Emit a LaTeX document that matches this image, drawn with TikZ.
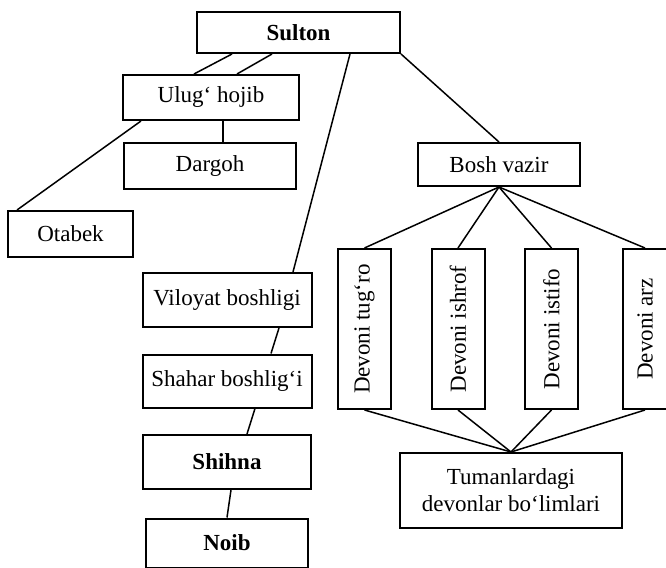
\documentclass[tikz,border=0pt]{standalone}
\usepackage{fontspec}
\setmainfont{Liberation Serif}
\usepackage{graphicx}

\begin{document}
\begin{tikzpicture}[x=0.5pt, y=-0.5pt, node distance={40.5pt}, line width=0.75pt, font=\fontsize{11.5}{13.5}\selectfont, main/.style = {draw, rectangle, line width=1pt, inner sep=1pt, align=center}, devon/.style = {main, minimum width=26.5pt, minimum height=80pt}] 
			\useasboundingbox (0,0) rectangle (666,568);
			\node[main, minimum width=101.5pt, minimum height=20.5pt] (1) at (298.5,32.5) {\textbf{Sulton}}; 
			\node[main, minimum width=88pt, minimum height=22.5pt] (2) at (211,97.5) {Ulug‘ hojib};
			\node[main, minimum width=86pt, minimum height=23pt] (3) at (210,166) {Dargoh};
			\node[main, minimum width=62.5pt, minimum height=23pt] (4) at (70.5,234) {Otabek};
			\node[main, minimum width=81pt, minimum height=21.5pt] (5) at (499,164.5) {Bosh vazir};
			\node[main, minimum width=84.5pt, minimum height=27pt] (6) at (227,300) {Viloyat boshligi};
			\node[main, minimum width=84.5pt, minimum height=26.5pt] (7) [below of=6] {Shahar boshlig‘i};
			\node[main, minimum width=84pt, minimum height=27pt] (8) [below of=7] {\textbf{Shihna}};
			\node[main, minimum width=81pt, minimum height=24.5pt] (9) [below of=8] {\textbf{Noib}};
			\node[devon] (10) at (364.5,329) {\rotatebox{90}{Devoni tug‘ro}};
			\node[devon, node distance=46.75pt] (11) [right of=10] {\rotatebox{90}{Devoni ishrof}};
			\node[devon, node distance=46.75pt] (12) [right of=11] {\rotatebox{90}{Devoni istifo}};
			\node[devon, node distance=46.75pt, minimum width=22pt] (13) [right of=12] {\rotatebox{90}{Devoni arz}};
			\node[main, minimum width=111pt, minimum height=37.5pt] (14) at (511,490.5) {Tumanlardagi\\devonlar bo‘limlari};
			\draw ([xshift=18pt]1.south west) -- ([xshift=36pt]2.north west);
			\draw ([xshift=38pt]1.south west) -- ([xshift=57.5pt]2.north west);
			\draw ([xshift=77pt]1.south west) -- ([xshift=33pt]6.north);
			\draw (1.south east) -- (5.north);
			\draw ([xshift=6pt]2.south) -- ([xshift=6.5pt]3.north);
			\draw ([xshift=9.5pt]2.south west) -- ([xshift=5pt]4.north west);
			\draw ([xshift=26pt]6.south) -- ([xshift=22pt]7.north);
			\draw ([xshift=14pt]7.south) -- ([xshift=10pt]8.north);
			\draw ([xshift=2pt]8.south) -- (9.north);
			\draw (5.south) -- (10.north);
			\draw (5.south) -- (11.north);
			\draw (5.south) -- (12.north);
			\draw (5.south) -- (13.north);
			\draw (10.south) -- (14.north);
			\draw (11.south) -- (14.north);
			\draw (12.south) -- (14.north);
			\draw (13.south) -- (14.north);
		\end{tikzpicture}
\end{document}
